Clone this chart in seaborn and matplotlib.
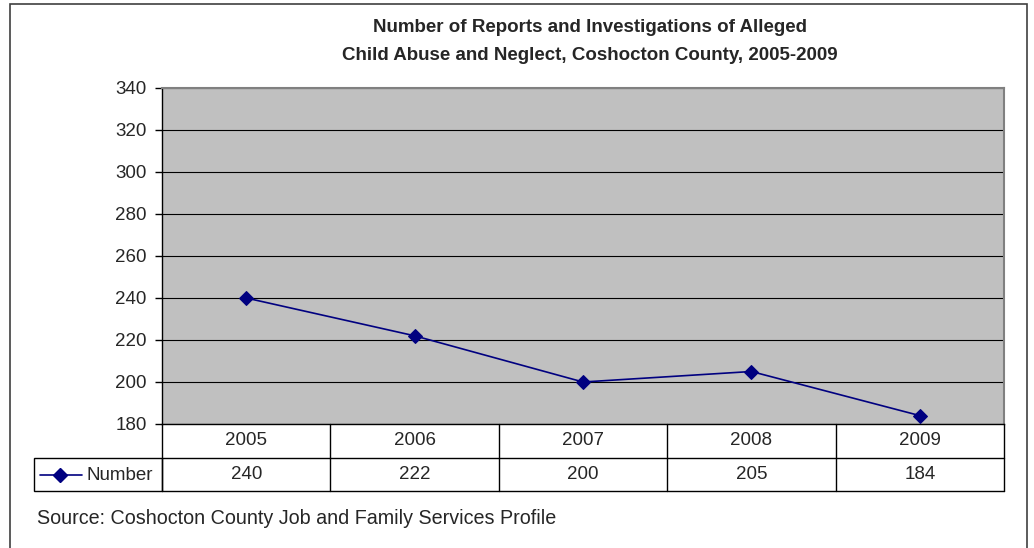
import matplotlib
matplotlib.use("Agg")
import matplotlib.pyplot as plt
from matplotlib.patches import Rectangle
from matplotlib.lines import Line2D
import pandas as pd
import seaborn as sns

years = ["2005", "2006", "2007", "2008", "2009"]
number = [240, 222, 200, 205, 184]
series_name = "Number"
y_ticks = [180, 200, 220, 240, 260, 280, 300, 320, 340]
title_lines = ["Number of Reports and Investigations of Alleged",
               "Child Abuse and Neglect, Coshocton County, 2005-2009"]
source_text = "Source: Coshocton County Job and Family Services Profile"

sns.set_style("white")
plt.rcParams["font.family"] = ["Liberation Sans", "DejaVu Sans"]

W, H = 1034, 548
fig = plt.figure(figsize=(W / 100, H / 100), dpi=100)


def fx(px):
    return px / W


def fy(py):
    return 1 - py / H


line_color = "#000080"
fs = 13.5

# outer chart border (runs off the bottom of the picture)
fig.patches.append(Rectangle((fx(10), fy(560)), fx(1027) - fx(10), (560 - 4) / H,
                             transform=fig.transFigure, fill=False,
                             edgecolor="#404040", lw=1.2))

# title
fig.text(fx(590), fy(28), title_lines[0], ha="center", va="center",
         fontsize=fs, fontweight="bold")
fig.text(fx(590), fy(55), title_lines[1], ha="center", va="center",
         fontsize=fs, fontweight="bold")

# plot area
ax = fig.add_axes([fx(162), fy(424), fx(1004) - fx(162), (424 - 88) / H])
ax.set_facecolor("#c0c0c0")
df = pd.DataFrame({"pos": range(len(years)), "value": number})
sns.lineplot(data=df, x="pos", y="value", ax=ax, color=line_color,
             marker="D", markersize=7, markeredgecolor=line_color,
             linewidth=1.2, zorder=3)
ax.set_xlim(-0.5, len(years) - 0.5)
ax.set_ylim(y_ticks[0], y_ticks[-1])
ax.set_yticks(y_ticks)
ax.set_yticklabels([str(t) for t in y_ticks], fontsize=fs)
ax.set_xticks([])
ax.set_xlabel("")
ax.set_ylabel("")
ax.yaxis.grid(True, color="black", lw=0.8)
ax.set_axisbelow(True)
ax.tick_params(axis="y", direction="out", length=5, width=1, pad=6,
               left=True, color="black")
for side in ["top", "right"]:
    ax.spines[side].set_color("#808080")
    ax.spines[side].set_linewidth(1.5)
for side in ["left", "bottom"]:
    ax.spines[side].set_color("black")
    ax.spines[side].set_linewidth(1)

# data table below the plot
tax = fig.add_axes([fx(162), fy(491), fx(1004) - fx(162), (491 - 424) / H])
tax.set_xlim(-0.5, len(years) - 0.5)
tax.set_ylim(0, 2)
tax.axis("off")
for i in range(len(years) + 1):
    tax.axvline(i - 0.5, color="black", lw=1, clip_on=False)
tax.axhline(1, color="black", lw=1, clip_on=False)
tax.axhline(0, color="black", lw=1, clip_on=False)
for i, (yr, val) in enumerate(zip(years, number)):
    tax.text(i, 1.5, yr, ha="center", va="center", fontsize=fs)
    tax.text(i, 0.5, str(val), ha="center", va="center", fontsize=fs)

# legend cell
fig.patches.append(Rectangle((fx(34), fy(491)), fx(162) - fx(34), (491 - 458) / H,
                             transform=fig.transFigure, fill=False,
                             edgecolor="black", lw=1))
fig.lines.append(Line2D([fx(40), fx(82)], [fy(475), fy(475)],
                        transform=fig.transFigure, color=line_color, lw=1.2))
fig.lines.append(Line2D([fx(60)], [fy(475)], transform=fig.transFigure,
                        color=line_color, marker="D", markersize=7, lw=0))
fig.text(fx(87), fy(475), series_name, ha="left", va="center", fontsize=fs)

# source note
fig.text(fx(37), fy(519), source_text, ha="left", va="center", fontsize=14.2)

fig.savefig("out.png", dpi=100)
